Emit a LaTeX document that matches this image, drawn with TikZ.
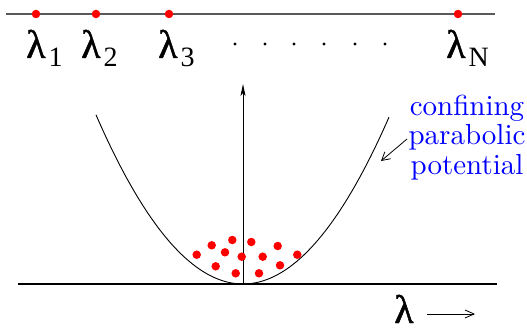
\documentclass[tikz,border=0pt]{standalone}
\usepackage{fontspec}
\usepackage{graphicx}
\newfontfamily\lamfont{Liberation Serif}
\newfontfamily\lamfontb[FakeBold=1.2]{Liberation Serif}
\usetikzlibrary{arrows.meta}
\tikzset{
  reddot/.style={circle,fill=red,inner sep=0pt,minimum size=8.5pt},
  lamlabel/.style={inner sep=0pt,anchor=base west},
  blackdot/.style={circle,fill=black,inner sep=0pt,minimum size=3.3pt},
}
\newcommand{\lamsub}[1]{{\lamfontb\fontsize{40}{40}\selectfont λ\hspace{3pt}\raisebox{-9pt}{\lamfont\fontsize{28}{28}\selectfont #1}}}
\begin{document}
\begin{tikzpicture}[x=1pt,y=-1pt]
\useasboundingbox (0,0) rectangle (527,334);
% top line
\coordinate (tl) at (6,14);
\coordinate (tr) at (495,14);
\draw[line width=1.3pt,black!65] (tl) -- (tr);
\node[reddot] (d1) at (36,14) {};
\node[reddot] (d2) at (96,14) {};
\node[reddot] (d3) at (169,14) {};
\node[reddot] (dN) at (458,14) {};
\node[lamlabel] (l1) at (26,58) {\lamsub{1}};
\node[lamlabel] (l2) at (81,58) {\lamsub{2}};
\node[lamlabel] (l3) at (158,58) {\lamsub{3}};
\node[lamlabel] (lN) at (446,58) {\lamsub{N}};
\foreach \i/\x in {1/235,2/265,3/294,4/324,5/355,6/385}
  \node[blackdot] (bd\i) at (\x,44) {};
% bottom line
\coordinate (bl) at (18,284);
\coordinate (br) at (497,284);
\draw[line width=1.4pt] (bl) -- (br);
% parabola
\draw[line width=0.9pt] plot[domain=96:389,samples=80] (\x,{284-0.00783*(\x-243)*(\x-243)});
% vertical arrow
\coordinate (v0) at (243,284);
\coordinate (v1) at (243,84);
\draw[line width=1pt,-{Stealth[length=12pt,width=5pt,inset=3pt]}] (v0) -- (v1);
% particles
\foreach \i/\x/\y in {1/196.7/254.7,2/211.7/245.3,3/232.3/240,4/225/252.3,5/215.7/266.3,6/241.7/256.7,7/235.7/273.3,8/251.3/242,9/262.7/256.7,10/277.7/246,11/259/273.3,12/280/265.3,13/297.3/254.7}
  \node[reddot] (p\i) at (\x,\y) {};
% label
\node[inner sep=0pt] (conf) at (467,139) {\textcolor{blue}{\scalebox{2.9}{\fontsize{10}{10.34}\selectfont\begin{tabular}{@{}c@{}}confining\\parabolic\\potential\end{tabular}}}};
\coordinate (a0) at (407,139);
\coordinate (a1) at (381,161);
\draw[line width=0.8pt,-{Straight Barb[length=8pt,width=9pt]}] (a0) -- (a1);
% lambda arrow
\node[inner sep=0pt,anchor=base] (lam) at (404,323) {\lamfontb\fontsize{40}{40}\selectfont λ};
\coordinate (b0) at (427,314);
\coordinate (b1) at (475,314);
\draw[line width=0.8pt,-{Straight Barb[length=9pt,width=8pt]}] (b0) -- (b1);
\end{tikzpicture}
\end{document}
